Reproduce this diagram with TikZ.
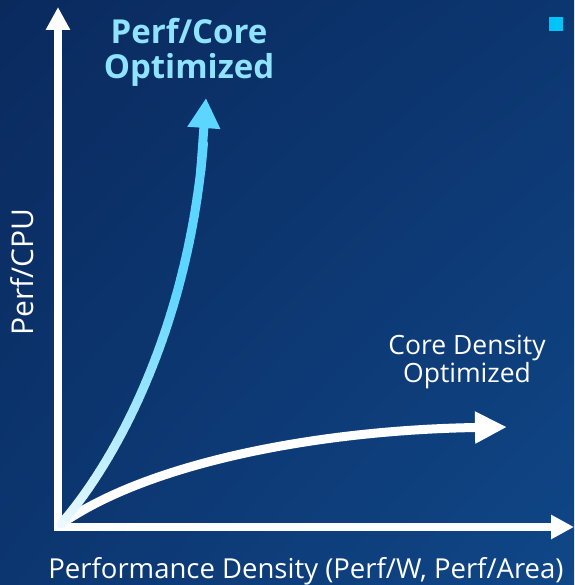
\documentclass[tikz,border=0pt]{standalone}
\usepackage{fontspec}
\setmainfont{Open Sans}
\usetikzlibrary{arrows.meta,positioning,shadings,decorations.markings}

\definecolor{bgdark}{HTML}{0A2A5E}
\definecolor{bgmid}{HTML}{0C3670}
\definecolor{bglight}{HTML}{104788}
\definecolor{perfcyan}{HTML}{5CD5FF}
\definecolor{perftext}{HTML}{8FE3FF}
\definecolor{markblue}{HTML}{00C3F8}

\begin{document}
\begin{tikzpicture}[
    x=1pt, y=-1pt,
    axis/.style={draw=white, line width=8pt, {Triangle[length=23pt,width=23pt]}-{Triangle[length=23pt,width=23pt]}},
    curve/.style={line width=9pt},
    label/.style={text=white, font=\fontsize{27.5}{27}\selectfont, inner sep=0pt},
    headline/.style={text=perftext, font=\fontsize{33}{35}\selectfont\bfseries, align=center, inner sep=0pt}
]
  % background
  \shade[upper left=bgdark, lower left=bgmid, upper right=bgmid, lower right=bglight] (0,0) rectangle (574,585);
  \useasboundingbox (0,0) rectangle (574,585);

  % corner marker
  \node[fill=markblue, minimum size=14pt, inner sep=0pt] (mark) at (556,24) {};

  % Axes
  \coordinate (origin) at (58,527);
  \coordinate (ytop) at (58,7);
  \coordinate (xend) at (574,527);
  \draw[axis] (ytop) -- (origin) -- (xend);

  % Curves
  \coordinate (start) at (61,524);
  \coordinate (perfend) at (206,98);
  \coordinate (densend) at (507,427);
  \draw[curve, white, -{Triangle[length=32pt,width=30pt]}] (start) .. controls (150,462) and (320,430) .. (densend);
  % perf curve, white at the bottom, cyan at the top
  \path[decorate, decoration={markings,
      mark=between positions 0 and 0.91 step 0.02 with {\coordinate (b\pgfkeysvalueof{/pgf/decoration/mark info/sequence number});}}]
    (start) .. controls (125,450) and (200,300) .. (perfend);
  \foreach \i [evaluate=\i as \j using int(\i+1)] in {1,...,45}{
    \pgfmathsetmacro{\p}{min(100,10+3*\i)}
    \draw[curve, line cap=round, perfcyan!\p!white] (b\i) -- (b\j);
  }
  \draw[curve, perfcyan, -{Triangle[length=30pt,width=31pt]}] (b43) -- (perfend);

  % Labels
  \node[headline] (perfcore) at (189,52) {Perf/Core\\Optimized};
  \node[label, align=center, font=\fontsize{26.5}{26}\selectfont] (density) at (467,362) {Core Density\\Optimized};
  \node[label, anchor=base] (xlabel) at (306,578) {Performance Density (Perf/W, Perf/Area)};
  \node[label, anchor=base, rotate=90, font=\fontsize{30}{30}\selectfont] (ylabel) at (33,272) {Perf/CPU};
\end{tikzpicture}
\end{document}
